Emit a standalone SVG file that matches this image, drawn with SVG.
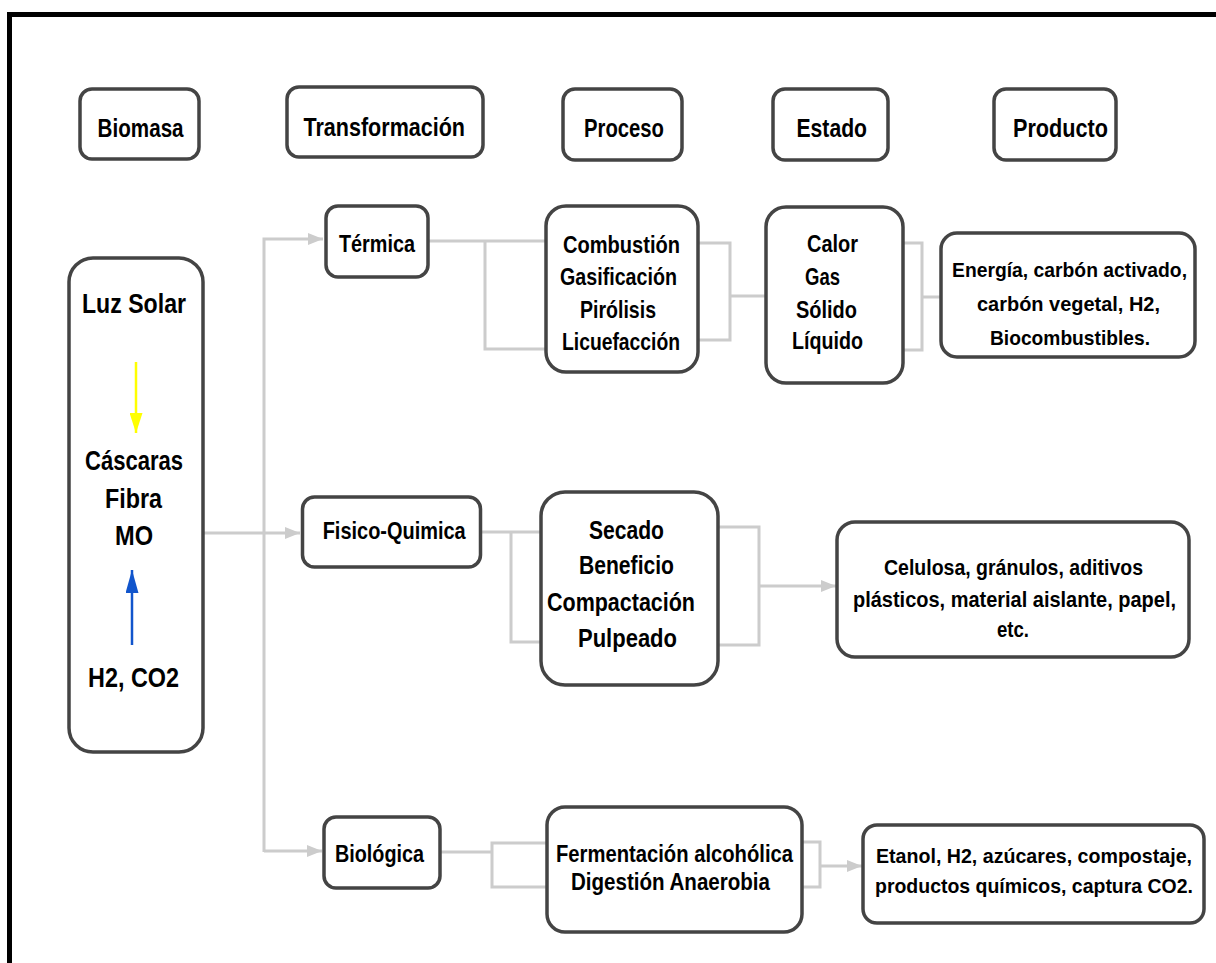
<svg xmlns="http://www.w3.org/2000/svg" width="1216" height="963" viewBox="0 0 1216 963">
<style>
.box{fill:#fff;stroke:#444;stroke-width:3.5}
.t{font-family:"Liberation Sans",Arial,sans-serif;font-weight:bold;fill:#000}
.h{font-size:26px}
.l{font-size:27px}
.m{font-size:24px}
.p{font-size:25px}
.s{font-size:22px}
.x{font-size:20.5px}
.c{fill:none;stroke:#cccccc;stroke-width:3}
</style>
<defs>
<marker id="ag" markerUnits="userSpaceOnUse" markerWidth="15" markerHeight="12" refX="15" refY="6" orient="auto">
<path d="M0,0 L15,6 L0,12 z" fill="#cccccc"/>
</marker>
<marker id="ay" markerUnits="userSpaceOnUse" markerWidth="20" markerHeight="13" refX="20" refY="6.5" orient="auto">
<path d="M0,0 L20,6.5 L0,13 z" fill="#ffff00"/>
</marker>
<marker id="ab" markerUnits="userSpaceOnUse" markerWidth="23" markerHeight="13" refX="23" refY="6.5" orient="auto">
<path d="M0,0 L23,6.5 L0,13 z" fill="#1155cc"/>
</marker>
</defs>
<rect x="0" y="0" width="1216" height="963" fill="#fff"/>
<rect x="9.5" y="14.5" width="1300" height="1000" fill="none" stroke="#000" stroke-width="5"/>

<g id="connectors">
<path class="c" d="M203,533 H300" marker-end="url(#ag)"/>
<path class="c" d="M264,852 V239 H323" marker-end="url(#ag)"/>
<path class="c" d="M264,851 H322" marker-end="url(#ag)"/>
<path class="c" d="M428,241 H545 M485,241 V349 H545"/>
<path class="c" d="M698,243 H730 V340 H698 M730,296 H765"/>
<path class="c" d="M903,243 H922 V350 H903 M922,297 H940"/>
<path class="c" d="M480,532 H541 M511,532 V642 H541"/>
<path class="c" d="M718,527 H759 V645 H718"/>
<path class="c" d="M759,586 H836" marker-end="url(#ag)"/>
<path class="c" d="M441,852 H492 M547,843 H492 V887 H547"/>
<path class="c" d="M802,842 H820 V887 H802"/>
<path class="c" d="M820,866 H862" marker-end="url(#ag)"/>
</g>

<g id="h-biomasa">
<rect class="box" x="80" y="89" width="119" height="70" rx="12"/>
<text class="t h" x="97.6" y="137" textLength="86" lengthAdjust="spacingAndGlyphs">Biomasa</text>
</g>
<g id="h-transformacion">
<rect class="box" x="287" y="87" width="196" height="70" rx="12"/>
<text class="t h" x="303.5" y="136" textLength="161.5" lengthAdjust="spacingAndGlyphs">Transformación</text>
</g>
<g id="h-proceso">
<rect class="box" x="563" y="89" width="119" height="71" rx="12"/>
<text class="t h" x="584" y="137" textLength="80" lengthAdjust="spacingAndGlyphs">Proceso</text>
</g>
<g id="h-estado">
<rect class="box" x="773" y="89" width="115" height="71" rx="12"/>
<text class="t h" x="796.5" y="137" textLength="70.5" lengthAdjust="spacingAndGlyphs">Estado</text>
</g>
<g id="h-producto">
<rect class="box" x="994" y="89" width="122" height="71" rx="12"/>
<text class="t h" x="1013" y="137" textLength="95" lengthAdjust="spacingAndGlyphs">Producto</text>
</g>

<g id="biomasa">
<rect class="box" x="69" y="258" width="134" height="494" rx="24"/>
<text class="t l" x="82" y="313" textLength="104" lengthAdjust="spacingAndGlyphs">Luz Solar</text>
<text class="t l" x="85" y="470" textLength="98" lengthAdjust="spacingAndGlyphs">Cáscaras</text>
<text class="t l" x="105" y="508" textLength="57" lengthAdjust="spacingAndGlyphs">Fibra</text>
<text class="t l" x="115" y="545" textLength="38" lengthAdjust="spacingAndGlyphs">MO</text>
<text class="t l" x="88" y="687" textLength="91" lengthAdjust="spacingAndGlyphs">H2, CO2</text>
</g>

<g id="termica">
<rect class="box" x="326" y="206" width="102" height="71" rx="12"/>
<text class="t m" x="339" y="252" textLength="76" lengthAdjust="spacingAndGlyphs">Térmica</text>
</g>
<g id="proc-termica">
<rect class="box" x="546" y="206" width="152" height="166" rx="20"/>
<text class="t m" x="563" y="253" textLength="117" lengthAdjust="spacingAndGlyphs">Combustión</text>
<text class="t m" x="560" y="285" textLength="117" lengthAdjust="spacingAndGlyphs">Gasificación</text>
<text class="t m" x="580" y="318" textLength="76" lengthAdjust="spacingAndGlyphs">Pirólisis</text>
<text class="t m" x="562" y="350" textLength="118" lengthAdjust="spacingAndGlyphs">Licuefacción</text>
</g>
<g id="estado-termica">
<rect class="box" x="766" y="207" width="137" height="176" rx="20"/>
<text class="t m" x="807" y="252" textLength="51" lengthAdjust="spacingAndGlyphs">Calor</text>
<text class="t m" x="805" y="285" textLength="35" lengthAdjust="spacingAndGlyphs">Gas</text>
<text class="t m" x="796" y="318" textLength="61" lengthAdjust="spacingAndGlyphs">Sólido</text>
<text class="t m" x="792" y="349" textLength="71" lengthAdjust="spacingAndGlyphs">Líquido</text>
</g>
<g id="prod-termica">
<rect class="box" x="941" y="233" width="254" height="124" rx="16"/>
<text class="t x" x="952" y="277" textLength="235" lengthAdjust="spacingAndGlyphs">Energía, carbón activado,</text>
<text class="t x" x="977" y="311" textLength="183" lengthAdjust="spacingAndGlyphs">carbón vegetal, H2,</text>
<text class="t x" x="990" y="345" textLength="160" lengthAdjust="spacingAndGlyphs">Biocombustibles.</text>
</g>

<g id="fisico">
<rect class="box" x="302.5" y="497" width="178" height="70" rx="12"/>
<text class="t m" x="322.7" y="539" textLength="143" lengthAdjust="spacingAndGlyphs">Fisico-Quimica</text>
</g>
<g id="proc-fisico">
<rect class="box" x="541" y="492" width="177" height="193" rx="24"/>
<text class="t p" x="589" y="539" textLength="75" lengthAdjust="spacingAndGlyphs">Secado</text>
<text class="t p" x="579" y="574" textLength="95" lengthAdjust="spacingAndGlyphs">Beneficio</text>
<text class="t p" x="547" y="611" textLength="148" lengthAdjust="spacingAndGlyphs">Compactación</text>
<text class="t p" x="578" y="647" textLength="99" lengthAdjust="spacingAndGlyphs">Pulpeado</text>
</g>
<g id="prod-fisico">
<rect class="box" x="837" y="522" width="352" height="135" rx="18"/>
<text class="t s" x="884" y="575" textLength="259" lengthAdjust="spacingAndGlyphs">Celulosa, gránulos, aditivos</text>
<text class="t s" x="853" y="607" textLength="323" lengthAdjust="spacingAndGlyphs">plásticos, material aislante, papel,</text>
<text class="t s" x="997" y="637" textLength="32" lengthAdjust="spacingAndGlyphs">etc.</text>
</g>

<g id="biologica">
<rect class="box" x="324" y="817" width="116" height="71" rx="12"/>
<text class="t m" x="335" y="862" textLength="89" lengthAdjust="spacingAndGlyphs">Biológica</text>
</g>
<g id="proc-biologica">
<rect class="box" x="547" y="807" width="255" height="125" rx="18"/>
<text class="t m" x="556" y="862" textLength="237" lengthAdjust="spacingAndGlyphs">Fermentación alcohólica</text>
<text class="t m" x="571" y="890" textLength="199" lengthAdjust="spacingAndGlyphs">Digestión Anaerobia</text>
</g>
<g id="prod-biologica">
<rect class="box" x="863" y="825" width="341" height="98" rx="14"/>
<text class="t x" x="876" y="863" textLength="316" lengthAdjust="spacingAndGlyphs">Etanol, H2, azúcares, compostaje,</text>
<text class="t x" x="875" y="893" textLength="318" lengthAdjust="spacingAndGlyphs">productos químicos, captura CO2.</text>
</g>

<g id="biomasa-arrows">
<path d="M136,362 V433" stroke="#ffff00" stroke-width="2.5" fill="none" marker-end="url(#ay)"/>
<path d="M132,645 V570" stroke="#1155cc" stroke-width="2.5" fill="none" marker-end="url(#ab)"/>
</g>
</svg>
